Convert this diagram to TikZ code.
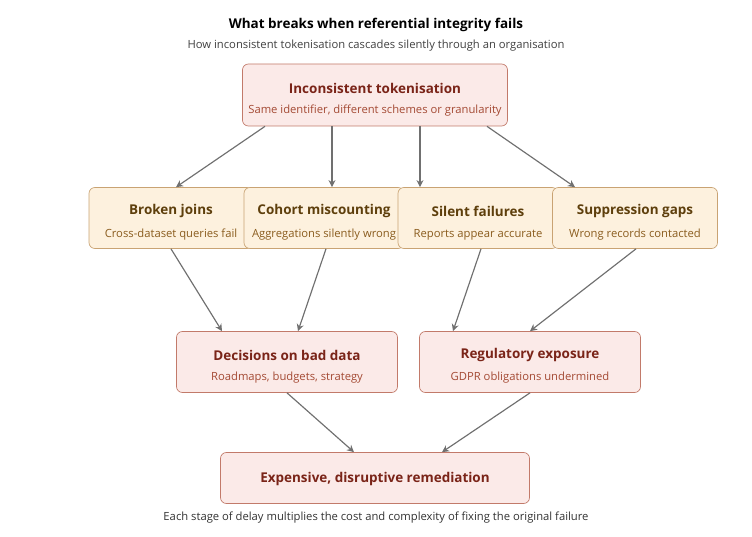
\documentclass[tikz,border=0pt]{standalone}
\usepackage{fontspec}
\setmainfont{Open Sans}
\usetikzlibrary{calc,arrows.meta}
\definecolor{redfill}{HTML}{FBEAE8}
\definecolor{redline}{HTML}{C27A6A}
\definecolor{redhead}{HTML}{7A2418}
\definecolor{redsub}{HTML}{A44A34}
\definecolor{orgfill}{HTML}{FDF1DE}
\definecolor{orgline}{HTML}{C9A373}
\definecolor{orghead}{HTML}{5E3F0C}
\definecolor{orgsub}{HTML}{8A5C1E}
\definecolor{arrowc}{HTML}{707070}
\tikzset{
  box/.style={draw, rounded corners=5pt, line width=0.6pt, inner sep=0pt},
  redbox/.style={box, fill=redfill, draw=redline},
  orgbox/.style={box, fill=orgfill, draw=orgline},
  head/.style={font=\fontsize{11.5}{13}\selectfont\bfseries},
  sub/.style={font=\fontsize{9.6}{11}\selectfont},
  flow/.style={draw=arrowc, line width=1pt, -{Stealth[length=6pt,width=6pt]}}
}
\begin{document}
\begin{tikzpicture}[x=0.03cm, y=-0.03cm]
    \useasboundingbox (0,0) rectangle (752,537);
    % titles
    \node (title) at (376,25) {\fontsize{11.5}{13}\selectfont\bfseries What breaks when referential integrity fails};
    \node (subt) [text=black!75] at (376,46) {\fontsize{9.6}{11}\selectfont How inconsistent tokenisation cascades silently through an organisation};
    % top
    \node (top) [redbox, minimum width=265*0.03cm, minimum height=62*0.03cm] at (375,95) {};
    \node [head, text=redhead] at (375,88) {Inconsistent tokenisation};
    \node [sub, text=redsub] at (375,111) {Same identifier, different schemes or granularity};
    % second row
    \node (joins) [orgbox, minimum width=164*0.03cm, minimum height=61*0.03cm] at (171,218) {};
    \node [head, text=orghead] at (171,211) {Broken joins};
    \node [sub, text=orgsub] at (171,235) {Cross-dataset queries fail};
    \node (cohort) [orgbox, minimum width=160*0.03cm, minimum height=61*0.03cm] at (324,218) {};
    \node [head, text=orghead] at (324,211) {Cohort miscounting};
    \node [sub, text=orgsub] at (324,235) {Aggregations silently wrong};
    \node (silent) [orgbox, minimum width=160*0.03cm, minimum height=61*0.03cm] at (478,218) {};
    \node [head, text=orghead] at (478,211) {Silent failures};
    \node [sub, text=orgsub] at (478,235) {Reports appear accurate};
    \node (supp) [orgbox, minimum width=165*0.03cm, minimum height=61*0.03cm] at (635,218) {};
    \node [head, text=orghead] at (635,211) {Suppression gaps};
    \node [sub, text=orgsub] at (635,235) {Wrong records contacted};
    % third row
    \node (bad) [redbox, minimum width=221*0.03cm, minimum height=61*0.03cm] at (287,362) {};
    \node [head, text=redhead] at (287,355) {Decisions on bad data};
    \node [sub, text=redsub] at (287,378) {Roadmaps, budgets, strategy};
    \node (reg) [redbox, minimum width=221*0.03cm, minimum height=61*0.03cm] at (530,362) {};
    \node [head, text=redhead] at (530,355) {Regulatory exposure};
    \node [sub, text=redsub] at (530,378) {GDPR obligations undermined};
    % bottom
    \node (fix) [redbox, minimum width=309*0.03cm, minimum height=51*0.03cm] at (375,478) {};
    \node [head, text=redhead] at (375,479) {Expensive, disruptive remediation};
    \node (foot) [text=black!80] at (376,518) {\fontsize{9.6}{11}\selectfont Each stage of delay multiplies the cost and complexity of fixing the original failure};
    % connectors
    \draw [flow] ($(top.south)+(-110,0)$) -- ($(joins.north)+(5,0)$);
    \draw [flow] ($(top.south)+(-43,0)$) -- ($(cohort.north)+(8,0)$);
    \draw [flow] ($(top.south)+(45,0)$) -- ($(silent.north)+(-58,0)$);
    \draw [flow] ($(top.south)+(112,0)$) -- ($(supp.north)+(-60,0)$);
    \draw [flow] ($(joins.south)+(0,0)$) -- ($(bad.north)+(-65,0)$);
    \draw [flow] ($(cohort.south)+(2,0)$) -- ($(bad.north)+(11,0)$);
    \draw [flow] ($(silent.south)+(3,0)$) -- ($(reg.north)+(-77,0)$);
    \draw [flow] ($(supp.south)+(1,0)$) -- ($(reg.north)+(0,0)$);
    \draw [flow] (bad.south) -- ($(fix.north)+(-21,0)$);
    \draw [flow] (reg.south) -- ($(fix.north)+(67,0)$);
\end{tikzpicture}
\end{document}
